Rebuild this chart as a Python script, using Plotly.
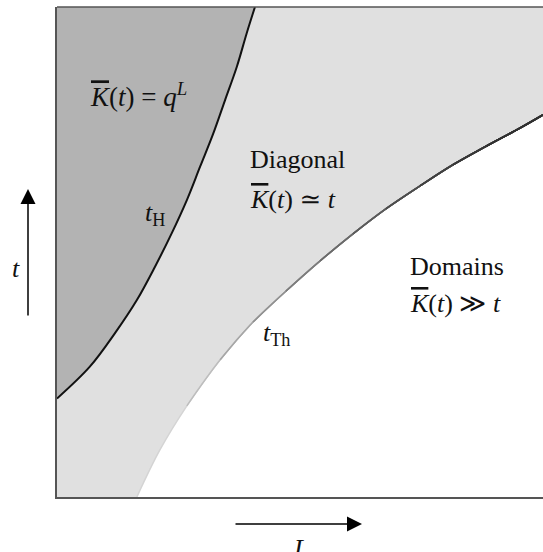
import plotly.graph_objects as go

# Boundary t_H (system size L vs time t)
tH_L = [0.0, 0.067, 0.118, 0.163, 0.200, 0.234, 0.265, 0.292, 0.319, 0.343, 0.367, 0.387, 0.404]
tH_t = [0.201, 0.266, 0.334, 0.402, 0.470, 0.538, 0.606, 0.674, 0.742, 0.810, 0.878, 0.946, 1.0]

# Boundary t_Th
tTh_L = [0.163, 0.210, 0.265, 0.333, 0.400, 0.467, 0.537, 0.604, 0.671, 0.741, 0.808, 0.876, 0.945, 0.992]
tTh_t = [0.0, 0.096, 0.186, 0.280, 0.357, 0.420, 0.482, 0.537, 0.588, 0.635, 0.678, 0.716, 0.753, 0.780]

FONT = "Liberation Serif, DejaVu Serif, serif"
KBAR = '<span style="text-decoration:overline"><i>K</i></span>'

fig = go.Figure()

# dark region: left of t_H
fig.add_trace(go.Scatter(x=tH_L, y=tH_t, mode="lines", fill="tozerox",
                         fillcolor="#b3b3b3", line=dict(color="#111111", width=2, shape="spline"),
                         hoverinfo="skip", showlegend=False))

# white region: below t_Th
fig.add_trace(go.Scatter(x=tTh_L, y=tTh_t, mode="lines", fill="tozeroy",
                         fillcolor="#ffffff", line=dict(color="#d4d4d4", width=1.5, shape="spline"),
                         hoverinfo="skip", showlegend=False))

# fading edge of t_Th (darker towards large L)
shades = ["#bdbdbd", "#a6a6a6", "#909090", "#7c7c7c", "#6a6a6a", "#5a5a5a",
          "#4c4c4c", "#404040", "#363636", "#303030"]
for k, col in enumerate(shades):
    s = k + 2
    fig.add_trace(go.Scatter(x=tTh_L[s:], y=tTh_t[s:], mode="lines",
                             line=dict(color=col, width=1.4 + 0.05 * k, shape="spline"),
                             hoverinfo="skip", showlegend=False))

ann = []
def txt(text, x, y, xa="left", size=26):
    ann.append(dict(text=text, x=x, y=y, xref="paper", yref="paper", xanchor=xa, yanchor="middle",
                    showarrow=False, font=dict(family=FONT, size=size, color="#111111")))

def px(x):
    return (x - 57) / 486.0

def py(y):
    return (497 - y) / 490.0

txt(KBAR + "(<i>t</i>) = <i>q</i><sup><i>L</i></sup>", px(88), py(95), size=27)
txt("Diagonal", px(248), py(160))
txt(KBAR + "(<i>t</i>) ≃ <i>t</i>", px(248), py(199))
txt("Domains", px(408), py(266))
txt(KBAR + "(<i>t</i>) ≫ <i>t</i>", px(408), py(304))
txt("<i>t</i><sub>Th</sub>", px(261), py(334))
txt("<i>t</i><sub>H</sub>", px(143), py(214))
txt("<i>t</i>", px(16), py(268), xa="center")
txt("<i>L</i>", px(300), py(548), xa="center")

# axis arrows
ann.append(dict(x=px(28), y=py(189), xref="paper", yref="paper", ax=0, ay=128, text="",
                showarrow=True, arrowhead=2, arrowsize=2, arrowwidth=1.5, arrowcolor="#000000", standoff=0))
ann.append(dict(x=px(362), y=py(524), xref="paper", yref="paper", ax=-128, ay=0, text="",
                showarrow=True, arrowhead=2, arrowsize=2, arrowwidth=1.5, arrowcolor="#000000", standoff=0))

fig.update_layout(
    width=543, height=552,
    margin=dict(l=57, r=0, t=7, b=55),
    paper_bgcolor="#ffffff", plot_bgcolor="#e0e0e0",
    xaxis=dict(range=[0, 486 / 490.0], showgrid=False, zeroline=False, showticklabels=False,
               ticks="", showline=True, linecolor="#555555", linewidth=1.5, fixedrange=True),
    yaxis=dict(range=[0, 1], showgrid=False, zeroline=False, showticklabels=False,
               ticks="", showline=True, linecolor="#555555", linewidth=1.5, fixedrange=True),
    annotations=ann,
    shapes=[dict(type="line", xref="paper", yref="paper", x0=0, x1=1, y0=1, y1=1,
                 line=dict(color="#555555", width=1.5))],
)

fig.write_html("out.html", config={"displayModeBar": False},
               post_script="document.body.style.margin='0px';")
